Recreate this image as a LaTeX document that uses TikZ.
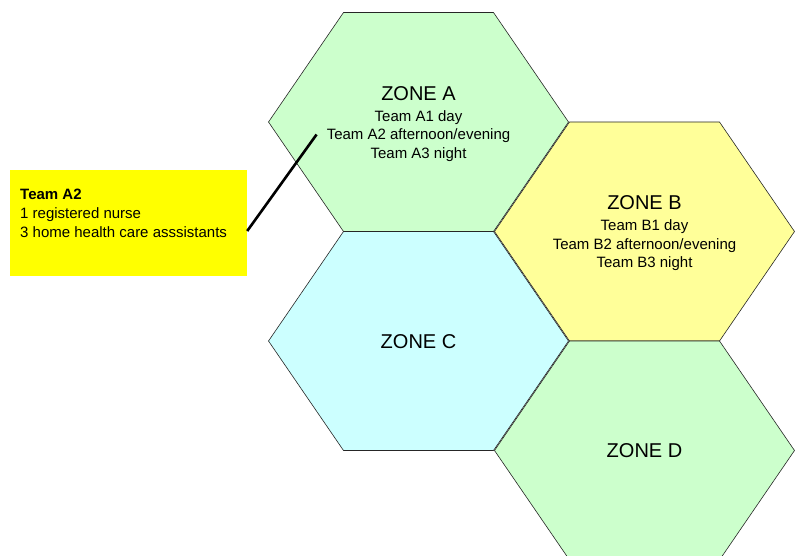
\documentclass[tikz,border=0pt]{standalone}
\usepackage{fontspec}
\setmainfont{Liberation Sans}
\usetikzlibrary{positioning}

\definecolor{zonegreen}{HTML}{CCFFCC}
\definecolor{zoneyellow}{HTML}{FFFF99}
\definecolor{zonecyan}{HTML}{CCFFFF}
\definecolor{noteyellow}{HTML}{FFFF00}

\tikzset{
  hexcell/.style={draw=black!85, line width=0.6pt},
  zonetitle/.style={font=\fontsize{20}{24}\selectfont, inner sep=0pt, text height=14.3pt, text depth=0pt},
  teamline/.style={font=\fontsize{15}{18}\selectfont, inner sep=2pt, text height=10.7pt, text depth=0pt},
  notebox/.style={fill=noteyellow, minimum width=237pt, minimum height=106pt, inner sep=0pt},
  notetext/.style={font=\fontsize{15}{19}\selectfont, align=left, inner sep=3pt},
  callout/.style={line width=2.6pt}
}

\begin{document}
\begin{tikzpicture}[x=1pt, y=-1pt]
		
		\useasboundingbox (0,0) rectangle (801,556);
		\clip (0,0) rectangle (801,556);
		
		% --- Zonas hexagonais (centro x / centro y / cor)
		\foreach \cx/\cy/\col in {418.5/122/zonegreen, 644.5/231.5/zoneyellow, 418.5/341/zonecyan, 644.5/450.5/zonegreen}
		\filldraw[hexcell, fill=\col] ({\cx-150},\cy) -- ({\cx-75},{\cy-109.5}) -- ({\cx+75},{\cy-109.5})
		-- ({\cx+150},\cy) -- ({\cx+75},{\cy+109.5}) -- ({\cx-75},{\cy+109.5}) -- cycle;
		
		% Zona A
		\node[zonetitle] (zoneA) at (418.5,93) {ZONE A};
		\node[teamline]  (a1) at (418.5,116) {Team A1 day};
		\node[teamline]  (a2) at (418.5,134.5) {Team A2 afternoon/evening};
		\node[teamline]  (a3) at (418.5,153) {Team A3 night};
		
		% Zona B
		\node[zonetitle] (zoneB) at (644.5,202.5) {ZONE B};
		\node[teamline]  (b1) at (644.5,225) {Team B1 day};
		\node[teamline]  (b2) at (644.5,244) {Team B2 afternoon/evening};
		\node[teamline]  (b3) at (644.5,262) {Team B3 night};
		
		% Zonas C e D
		\node[zonetitle] (zoneC) at (418.5,341) {ZONE C};
		\node[zonetitle] (zoneD) at (644.5,450.5) {ZONE D};
		
		% --- Nota da equipa A2
		\node[notebox] (note) at (128.5,223) {};
		\node[notetext, anchor=west] (noteinfo) at (17,213) {\textbf{Team A2}\\1 registered nurse\\3 home health care asssistants};
		
		% Ligação
		\draw[callout] ([yshift=-8pt]note.east) -- ([xshift=-8pt]a2.west);
		
	\end{tikzpicture}
\end{document}
